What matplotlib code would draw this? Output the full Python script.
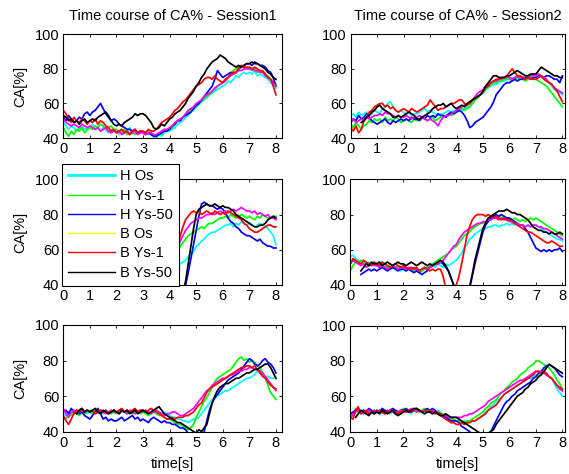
import numpy as np
import matplotlib
matplotlib.use('Agg')
import matplotlib.pyplot as plt
from matplotlib.lines import Line2D

nan = float('nan')

# sample times (s), one value every 0.1 s
time = np.linspace(0, 8, 81)

legend_labels = ['H Os', 'H Ys-1', 'H Ys-50', 'B Os', 'B Ys-1', 'B Ys-50']
titles = ['Time course of CA% - Session1', 'Time course of CA% - Session2']

# ---- row 1, session 1
r1s1_hos = [49,47,45,47,46,44,46,47,45,46, 46,48,45,46,44,46,45,43,45,44,
            44,42,45,43,44,46,43,44,42,44, 44,43,42,43,41,40,42,41,43,44,
            44,45,46,48,49,50,52,53,55,56, 58,59,61,62,63,65,66,67,68,69,
            70,71,73,72,74,76,75,77,78,77, 78,77,79,76,77,76,75,74,72,71, 69]
r1s1_hys1 = [46,43,41,44,42,45,44,46,43,45, 46,45,47,46,48,47,45,46,47,45,
             45,44,43,45,42,43,44,42,43,44, 43,42,44,43,41,42,43,42,44,44,
             45,46,48,50,51,52,54,55,56,57, 58,60,61,63,64,65,67,68,70,71,
             72,74,75,77,79,80,81,82,81,80, 80,79,80,78,79,78,77,76,74,73, 71]
r1s1_hys50 = [52,50,53,51,49,50,52,51,54,55, 53,55,56,58,60,57,54,52,50,51,
              50,48,47,46,45,45,44,45,43,44, 43,42,43,42,41,41,42,43,44,44,
              45,47,48,50,50,52,53,54,55,57, 59,60,62,64,66,68,70,74,79,77,
              75,76,77,78,77,78,80,81,82,83, 83,82,84,83,82,82,81,79,78,75, 70]
r1s1_bos = [51,49,48,47,48,47,46,48,47,46, 47,46,45,46,44,45,46,44,43,44,
            43,44,42,43,44,42,43,44,42,43, 43,42,43,43,42,42,43,44,45,45,
            46,47,49,50,51,52,54,56,57,58, 60,61,62,64,65,66,67,69,70,71,
            72,73,75,76,77,78,79,79,80,80, 80,80,79,79,78,78,76,75,74,72, 70]
r1s1_bys1 = [56,54,51,49,52,50,49,51,50,48, 50,49,51,48,50,49,47,46,44,45,
             43,44,45,43,44,42,44,45,43,44, 44,43,45,44,44,45,47,49,50,51,
             52,54,56,57,59,61,62,64,66,68, 70,71,72,74,75,75,74,76,74,73,
             72,74,75,77,78,78,80,82,81,81, 81,80,81,80,79,79,77,75,74,70, 65]
r1s1_bys50 = [53,52,50,51,49,50,48,50,51,49, 50,51,50,52,53,54,55,53,50,48,
              47,48,47,49,50,51,52,54,53,54, 54,53,51,49,46,45,46,48,47,49,
              51,52,54,55,56,58,60,63,65,67, 70,72,75,77,80,82,84,85,86,88,
              87,86,84,83,82,81,82,81,82,83, 83,84,83,83,82,81,80,78,77,75, 74]

# ---- row 1, session 2
r1s2_hos = [53,54,52,55,53,54,55,53,54,56, 55,54,57,58,60,61,58,56,55,56,
            55,54,55,53,54,54,55,56,57,55, 56,55,54,53,54,54,55,56,55,56,
            56,57,56,57,58,58,60,62,64,65, 66,68,69,70,71,71,72,73,73,74,
            74,75,74,76,75,75,76,75,76,77, 76,77,75,74,73,72,70,68,67,66, 65]
r1s2_hys1 = [48,46,49,47,45,47,48,50,49,51, 50,51,49,52,50,51,50,52,51,49,
             50,51,50,49,51,50,51,52,51,50, 51,52,50,51,52,52,53,54,53,54,
             55,56,57,56,57,58,60,62,63,65, 66,68,70,71,72,72,73,73,74,74,
             74,73,74,75,74,74,73,74,75,74, 74,73,72,71,70,68,66,64,62,60, 58]
r1s2_hys50 = [49,51,50,53,51,52,54,52,50,49, 48,49,50,51,49,48,50,49,50,51,
              50,51,50,52,51,51,50,52,51,53, 52,53,52,54,53,53,52,54,55,54,
              55,56,55,53,50,46,47,49,50,51, 52,54,56,58,61,65,67,69,71,72,
              72,73,74,73,74,74,75,75,74,75, 75,76,76,75,76,76,75,74,74,72, 76]
r1s2_bos = [50,51,49,50,51,50,52,51,52,53, 53,54,53,55,54,54,53,52,53,52,
            52,53,52,51,52,52,53,52,51,50, 51,50,49,47,50,52,53,53,54,55,
            56,57,58,59,59,60,62,64,66,67, 68,70,71,72,73,73,74,74,75,75,
            75,74,75,76,75,75,74,75,76,76, 76,77,76,75,74,72,71,69,68,67, 66]
r1s2_bys1 = [46,44,47,43,45,50,52,55,56,58, 59,60,60,58,59,57,58,56,55,56,
             57,56,55,57,56,55,56,57,58,59, 62,60,58,56,57,57,58,59,60,60,
             61,62,62,60,59,60,62,63,64,65, 67,69,70,72,73,74,74,75,75,76,
             78,80,78,76,76,75,74,75,74,74, 74,75,76,74,73,72,71,69,67,64, 61]
r1s2_bys50 = [nan,nan,nan,nan,49,50,52,53,55,56, 58,59,57,56,55,54,52,52,53,52,
              53,54,55,54,53,51,51,52,53,54, 55,57,58,59,59,60,58,59,60,58,
              57,58,59,58,60,61,62,63,64,65, 67,70,72,74,76,76,75,75,75,76,
              76,77,78,79,78,77,76,76,77,77, 77,79,81,80,79,78,77,76,76,75, 75]

# ---- row 2, session 1
r2s1_hos = [52,51,53,50,52,51,50,52,51,50, 51,50,49,51,50,52,51,50,49,50,
            50,49,51,50,48,50,49,51,50,49, 49,48,50,49,48,47,48,49,48,47,
            47,48,49,50,52,53,54,56,57,59, 62,63,65,66,68,69,70,70,71,72,
            73,74,74,75,73,75,74,76,75,74, 75,74,73,74,75,74,73,72,70,68, 63]
r2s1_hys1 = [51,52,50,53,51,52,50,51,52,50, 50,51,52,50,51,49,50,52,51,50,
             50,51,49,50,51,50,49,50,51,49, 49,50,48,49,47,48,47,48,46,47,
             48,50,54,58,62,64,66,68,69,70, 71,72,73,72,74,75,75,76,77,78,
             78,79,78,80,79,78,79,80,79,78, 79,78,77,79,78,80,79,78,78,79, 79]
r2s1_hys50 = [50,51,52,50,51,53,51,50,52,51, 50,52,51,50,49,51,50,49,50,51,
              49,50,48,49,50,48,49,47,48,49, 48,47,48,46,47,45,46,44,43,41,
              38,36,35,34,33,35,40,47,55,63, 71,79,86,87,86,85,85,84,83,84,
              83,81,78,76,75,73,72,70,69,68, 68,67,66,65,66,64,63,62,62,61, 61]
r2s1_bos = [50,52,51,50,52,51,49,51,50,52, 51,50,52,51,50,49,51,50,49,51,
            50,49,50,51,49,50,48,49,50,49, 48,49,48,47,48,47,46,47,48,49,
            50,53,57,61,65,68,71,73,75,76, 77,78,78,79,80,80,81,80,81,82,
            81,82,81,82,83,82,83,84,83,82, 82,81,82,80,81,80,79,80,78,78, 77]
r2s1_bys1 = [49,50,51,50,52,50,51,49,50,51, 50,51,49,50,52,50,51,50,49,50,
             49,50,51,49,50,48,49,50,49,48, 49,48,47,48,46,47,45,46,44,43,
             44,48,55,62,68,73,77,79,81,82, 81,82,80,81,82,81,80,82,81,80,
             81,80,82,81,80,79,78,77,75,74, 72,71,70,70,71,72,73,74,74,73, 73]
r2s1_bys50 = [51,50,52,51,50,52,51,50,51,52, 51,50,51,52,50,51,50,51,50,49,
              50,49,50,51,50,49,48,49,50,48, 48,47,48,46,47,45,44,43,42,40,
              38,36,35,34,33,36,42,52,62,72, 80,83,84,85,86,85,85,86,85,84,
              85,84,84,83,82,80,79,78,77,76, 75,74,73,73,74,74,75,77,78,79, 78]

# ---- row 2, session 2
r2s2_hos = [56,57,55,54,53,54,52,53,51,52, 51,50,52,50,51,49,50,49,50,48,
            49,48,49,50,48,49,47,48,49,50, 50,51,50,52,51,50,52,51,52,53,
            54,56,58,61,63,66,67,69,70,71, 72,72,73,73,74,74,73,74,74,75,
            74,75,74,75,74,74,73,74,73,74, 74,73,72,71,70,69,68,67,66,66, 65]
r2s2_hys1 = [48,51,53,52,54,52,53,51,52,53, 52,51,53,52,50,52,51,50,51,50,
             50,49,50,48,49,48,47,48,49,50, 51,52,53,54,55,56,57,58,60,61,
             62,64,66,68,69,70,72,73,74,75, 75,76,77,77,78,78,79,78,79,78,
             78,77,78,77,76,77,76,77,78,77, 78,77,76,75,74,73,72,71,70,69, 68]
r2s2_hys50 = [nan,nan,nan,nan,46,47,48,49,48,49, 48,49,50,49,48,49,50,49,48,49,
              49,48,49,48,47,48,47,46,47,48, 50,51,52,52,53,52,50,48,44,40,
              37,35,34,33,35,38,45,52,58,64, 70,74,76,78,79,80,79,80,79,78,
              78,77,76,75,74,74,72,70,67,64, 61,60,59,60,59,60,59,60,60,61, 59]
r2s2_bos = [52,54,53,52,51,52,50,51,52,51, 51,50,51,50,49,50,51,50,49,50,
            50,49,50,49,50,49,48,49,50,49, 50,51,52,52,53,54,56,58,60,62,
            63,66,68,70,71,72,73,74,75,75, 76,76,77,77,78,78,77,78,77,77,
            76,76,75,75,74,74,73,74,73,74, 74,73,73,72,72,71,70,69,68,67, 66]
r2s2_bys1 = [52,55,54,53,52,54,53,52,51,53, 52,51,53,52,51,50,51,52,51,50,
             51,50,49,50,49,50,48,49,50,49, 48,49,48,49,49,45,38,34,33,35,
             40,45,52,60,68,73,77,79,80,80, 80,79,80,79,78,79,78,77,78,77,
             77,76,75,74,73,72,71,70,70,69, 68,67,66,65,64,64,65,64,63,62, 62]
r2s2_bys50 = [nan,nan,nan,nan,48,50,52,51,53,52, 52,53,51,52,53,52,51,52,53,52,
              52,51,52,53,52,51,52,53,52,51, 52,51,52,53,54,53,51,48,44,40,
              37,35,34,33,35,39,46,54,60,66, 72,75,78,79,80,81,82,82,82,83,
              82,81,81,80,80,79,78,77,75,73, 72,71,71,70,70,69,70,69,69,70, 69]

# ---- row 3, session 1
r3s1_hos = [50,49,51,50,52,51,50,52,51,50, 52,51,50,51,52,50,51,50,51,52,
            51,50,51,52,50,51,50,51,52,51, 51,52,51,50,51,52,51,50,51,50,
            49,48,48,47,47,46,46,45,46,47, 47,48,50,52,54,56,58,59,60,61,
            62,63,63,64,65,66,67,68,69,70, 70,71,72,74,73,72,71,71,70,70, 70]
r3s1_hys1 = [48,47,50,49,51,50,49,51,50,52, 51,50,52,51,50,51,52,51,50,51,
             50,51,52,51,50,51,50,52,51,50, 51,50,49,50,51,50,49,50,48,47,
             47,46,45,44,44,43,42,41,42,44, 48,51,54,57,59,62,65,68,70,71,
             72,73,74,75,77,79,81,82,80,81, 79,80,79,77,76,73,70,66,62,60, 58]
r3s1_hys50 = [51,52,50,53,51,52,50,51,49,48, 47,49,51,53,50,47,48,46,47,46,
              46,47,48,46,47,48,49,47,48,46, 47,46,45,47,48,47,46,45,46,45,
              45,44,44,43,42,42,41,39,37,36, 35,35,36,40,46,52,56,59,61,63,
              65,67,69,70,71,72,73,75,77,79, 81,80,78,77,78,80,81,79,78,76, 73]
r3s1_bos = [53,50,48,51,52,50,51,52,51,52, 51,52,50,51,52,51,50,51,52,51,
            51,50,52,51,50,52,51,50,51,52, 51,52,51,50,51,52,51,50,49,50,
            50,51,51,50,49,49,50,51,52,53, 55,57,59,61,63,64,66,67,68,69,
            70,70,71,72,72,73,74,74,75,75, 76,76,75,75,74,73,71,69,67,65, 63]
r3s1_bys1 = [49,46,44,47,50,52,51,53,51,52, 51,52,50,51,52,51,52,50,51,52,
             51,52,53,51,52,51,52,53,51,52, 52,51,52,53,52,51,50,49,48,47,
             47,48,47,48,48,48,49,49,50,51, 53,55,56,59,62,64,65,66,67,68,
             69,70,71,72,73,74,75,76,76,77, 77,76,77,75,73,71,70,68,66,65, 64]
r3s1_bys50 = [nan,nan,nan,nan,nan,50,52,53,51,52, 51,52,53,51,50,52,51,50,51,52,
              51,50,52,51,52,50,51,52,50,51, 52,51,50,51,52,53,54,52,50,49,
              48,47,46,45,45,44,43,42,41,40, 39,41,40,42,44,50,56,60,63,65,
              66,67,67,68,69,70,70,71,72,73, 73,74,75,75,76,77,78,78,76,73, 70]

# ---- row 3, session 2
r3s2_hos = [49,50,52,51,50,52,51,50,51,52, 51,50,51,52,51,50,51,52,51,50,
            51,52,51,50,52,51,52,51,50,51, 51,50,51,52,51,49,48,47,47,46,
            46,45,45,46,45,45,46,46,47,48, 49,51,52,54,55,57,58,59,61,62,
            63,64,65,66,67,68,69,70,70,71, 72,72,73,73,72,71,70,67,64,62, 60]
r3s2_hys1 = [48,50,53,52,51,52,50,51,52,51, 52,51,53,52,51,52,51,52,51,52,
             53,52,51,52,53,52,51,52,53,52, 52,51,52,51,50,50,49,48,47,47,
             46,46,45,45,46,46,47,48,49,50, 51,53,54,56,57,58,60,62,63,65,
             66,68,69,70,72,73,74,76,77,78, 80,80,79,78,77,76,74,72,69,67, 64]
r3s2_hys50 = [50,51,52,53,51,52,51,53,52,51, 52,51,53,52,51,52,53,52,51,52,
              52,53,52,51,52,53,52,51,52,53, 52,53,52,50,49,49,48,47,46,46,
              46,45,43,42,41,40,38,37,36,36, 36,37,38,40,43,46,49,52,55,57,
              58,60,61,63,64,65,66,67,68,70, 71,73,74,76,77,78,77,76,74,72, 71]
r3s2_bos = [47,50,51,52,51,50,51,52,51,50, 51,52,51,50,51,52,51,50,51,52,
            52,51,52,53,52,51,52,51,52,51, 51,52,51,50,50,49,49,48,48,48,
            48,48,48,49,49,50,50,51,52,53, 54,55,57,58,59,60,61,62,63,64,
            65,66,67,68,69,69,70,71,72,73, 74,74,74,73,72,71,70,68,66,64, 63]
r3s2_bys1 = [48,47,52,54,50,51,52,50,51,52, 51,52,51,50,52,51,52,51,50,51,
             52,51,52,51,52,53,52,51,52,51, 52,51,50,51,50,48,47,46,45,45,
             44,44,45,44,45,45,46,46,47,48, 49,50,52,53,54,55,57,59,61,62,
             63,64,65,66,67,68,69,70,71,72, 74,74,73,74,73,71,70,68,66,65, 64]
r3s2_bys50 = [nan,nan,48,50,52,51,50,49,51,50, 51,50,52,51,50,51,52,50,49,50,
              51,52,51,52,53,53,52,51,50,51, 51,50,51,50,49,49,50,49,48,48,
              48,47,46,45,44,43,42,41,40,39, 38,38,39,40,41,44,46,48,50,52,
              54,56,58,60,61,62,64,65,67,68, 69,71,72,74,76,78,77,76,75,74, 73]

panels = [
    [r1s1_hos, r1s1_hys1, r1s1_hys50, r1s1_bos, r1s1_bys1, r1s1_bys50],
    [r1s2_hos, r1s2_hys1, r1s2_hys50, r1s2_bos, r1s2_bys1, r1s2_bys50],
    [r2s1_hos, r2s1_hys1, r2s1_hys50, r2s1_bos, r2s1_bys1, r2s1_bys50],
    [r2s2_hos, r2s2_hys1, r2s2_hys50, r2s2_bos, r2s2_bys1, r2s2_bys50],
    [r3s1_hos, r3s1_hys1, r3s1_hys50, r3s1_bos, r3s1_bys1, r3s1_bys50],
    [r3s2_hos, r3s2_hys1, r3s2_hys50, r3s2_bos, r3s2_bys1, r3s2_bys50],
]

line_colors = ['#00ffff', '#00ff00', '#0000ff', '#ff00ff', '#ff0000', '#000000']
legend_colors = ['#00ffff', '#00ff00', '#0000ff', '#ffff00', '#ff0000', '#000000']

plt.rcParams['font.family'] = 'Liberation Sans'
plt.rcParams['font.size'] = 10.5

W, H = 569, 474
fig = plt.figure(figsize=(W / 100, H / 100), dpi=100)

# axes boxes in pixels: left, top, right, bottom
boxes = [
    (63.3, 34.3, 281.5, 138.0), (350.7, 34.3, 565.3, 138.0),
    (63.3, 179.3, 281.5, 285.0), (350.3, 179.3, 565.3, 285.0),
    (63.3, 325.0, 281.5, 431.5), (350.3, 325.5, 565.3, 431.5),
]
xmax = [8.21, 8.11, 8.21, 8.11, 8.21, 8.11]

axes = []
for i, (l, t, r, b) in enumerate(boxes):
    ax = fig.add_axes([l / W, 1 - b / H, (r - l) / W, (b - t) / H])
    for ys, c in zip(panels[i], line_colors):
        ax.plot(time, ys, color=c, lw=1.25)
    ax.set_xlim(0, xmax[i])
    ax.set_ylim(40, 100)
    ax.set_xticks(range(0, 9))
    ax.set_yticks([40, 60, 80, 100])
    ax.tick_params(direction='in', top=True, right=True, length=2.5,
                   width=0.6, pad=3, labelsize=10.5)
    for s in ax.spines.values():
        s.set_linewidth(0.8)
    if i % 2 == 0:
        ax.set_ylabel('CA[%]', labelpad=5)
    if i < 2:
        ax.set_title(titles[i], fontsize=10.5, pad=10)
    if i >= 4:
        ax.set_xlabel('time[s]', labelpad=5)
    axes.append(ax)

handles = [Line2D([], [], color=c, lw=1.0) for c in legend_colors]
handles[0].set_linewidth(2.0)
leg = axes[2].legend(handles, legend_labels, loc='lower left',
                     bbox_to_anchor=(62.3 / W, 1 - 285.5 / H),
                     bbox_transform=fig.transFigure, borderaxespad=0,
                     frameon=True, fancybox=False, framealpha=1,
                     edgecolor='black', handlelength=3.2, handletextpad=0.35,
                     labelspacing=0.36, borderpad=0.4, fontsize=10.5)
leg.get_frame().set_linewidth(0.8)
leg.set_zorder(10)

fig.savefig('out.png', dpi=100)
